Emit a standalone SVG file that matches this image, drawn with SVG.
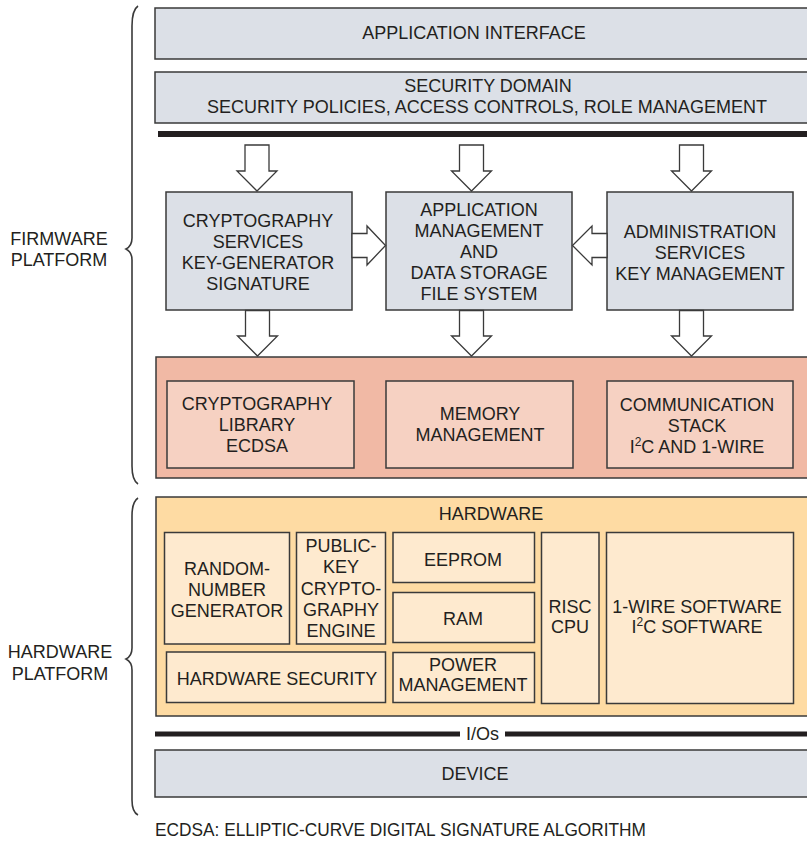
<svg xmlns="http://www.w3.org/2000/svg" width="807" height="841" viewBox="0 0 807 841">
<style>
text{font-family:"Liberation Sans",Arial,sans-serif;font-size:18px;fill:#231f20;text-anchor:middle}
.l{text-anchor:start}
.g{fill:#dce0e7;stroke:#3a3a3a;stroke-width:1.5}
.so{fill:#f1b9a5;stroke:#3a3a3a;stroke-width:1.5}
.si{fill:#f6d1c2;stroke:#3a3a3a;stroke-width:1.5}
.ho{fill:#fedba3;stroke:#3a3a3a;stroke-width:1.5}
.hi{fill:#feeacf;stroke:#3a3a3a;stroke-width:1.5}
.ar{fill:#fff;stroke:#3a3a3a;stroke-width:1.3;stroke-linejoin:miter}
.br{fill:none;stroke:#3a3a3a;stroke-width:1.6}
.bar{fill:#231f20}
.sup{font-size:12px}
</style>
<rect width="807" height="841" fill="#fff"/>
<g id="braces">
<path class="br" d="M138,6 Q132,10 132,26 L132,238 Q132,246 126,249 Q132,252 132,260 L132,466 Q132,480 138,484"/>
<path class="br" d="M138,498 Q132,502 132,516 L132,648 Q132,656 126,659 Q132,662 132,670 L132,800 Q132,812 138,815"/>
<text x="59" y="244.5">FIRMWARE</text>
<text x="59" y="266">PLATFORM</text>
<text x="60" y="657.5">HARDWARE</text>
<text x="60" y="679.5">PLATFORM</text>
</g>
<g id="app-interface">
<rect class="g" x="155" y="8" width="656" height="51"/>
<text x="474" y="39">APPLICATION INTERFACE</text>
</g>
<g id="security-domain">
<rect class="g" x="155" y="72" width="656" height="51"/>
<text x="488" y="92">SECURITY DOMAIN</text>
<text x="487" y="113">SECURITY POLICIES, ACCESS CONTROLS, ROLE MANAGEMENT</text>
</g>
<rect class="bar" x="158" y="131" width="649" height="6"/>
<g id="crypto-services">
<rect class="g" x="166" y="192" width="186" height="118"/>
<text x="258" y="227">CRYPTOGRAPHY</text>
<text x="258" y="248">SERVICES</text>
<text x="258" y="269">KEY-GENERATOR</text>
<text x="258" y="290">SIGNATURE</text>
</g>
<g id="app-management">
<rect class="g" x="386" y="192" width="186" height="118"/>
<text x="479" y="216">APPLICATION</text>
<text x="479" y="237">MANAGEMENT</text>
<text x="479" y="258">AND</text>
<text x="479" y="279">DATA STORAGE</text>
<text x="479" y="300">FILE SYSTEM</text>
</g>
<g id="admin-services">
<rect class="g" x="607" y="192" width="186" height="118"/>
<text x="700" y="237.5">ADMINISTRATION</text>
<text x="700" y="258.5">SERVICES</text>
<text x="700" y="279.5">KEY MANAGEMENT</text>
</g>
<g id="libraries">
<rect class="so" x="156" y="357" width="655" height="121"/>
</g>
<g id="crypto-library">
<rect class="si" x="167" y="381" width="187" height="87"/>
<text x="257" y="409.5">CRYPTOGRAPHY</text>
<text x="257" y="430.5">LIBRARY</text>
<text x="257" y="452">ECDSA</text>
</g>
<g id="memory-management">
<rect class="si" x="386" y="381" width="187" height="87"/>
<text x="480" y="420">MEMORY</text>
<text x="480" y="441">MANAGEMENT</text>
</g>
<g id="communication-stack">
<rect class="si" x="607" y="381" width="186" height="87"/>
<text x="697" y="410.5">COMMUNICATION</text>
<text x="697" y="431.5">STACK</text>
<text x="697" y="453">I<tspan class="sup" dy="-7">2</tspan><tspan dy="7">C AND 1-WIRE</tspan></text>
</g>
<g id="hardware">
<rect class="ho" x="156" y="497" width="655" height="219"/>
<text x="491" y="520">HARDWARE</text>
</g>
<g id="rng">
<rect class="hi" x="164.5" y="532.5" width="125" height="111.5"/>
<text x="227" y="575">RANDOM-</text>
<text x="227" y="596">NUMBER</text>
<text x="227" y="617">GENERATOR</text>
</g>
<g id="pk-engine">
<rect class="hi" x="296.5" y="532.5" width="89" height="111.5"/>
<text x="341" y="551.5">PUBLIC-</text>
<text x="341" y="573">KEY</text>
<text x="341" y="594.5">CRYPTO-</text>
<text x="341" y="616">GRAPHY</text>
<text x="341" y="637">ENGINE</text>
</g>
<g id="hw-security">
<rect class="hi" x="166.5" y="652" width="219" height="50.5"/>
<text x="277" y="685">HARDWARE SECURITY</text>
</g>
<g id="eeprom">
<rect class="hi" x="393" y="532.5" width="141.5" height="50"/>
<text x="463" y="565.5">EEPROM</text>
</g>
<g id="ram">
<rect class="hi" x="393" y="592.5" width="141.5" height="50"/>
<text x="463" y="625">RAM</text>
</g>
<g id="power-management">
<rect class="hi" x="393" y="652.5" width="141.5" height="50"/>
<text x="463" y="670.5">POWER</text>
<text x="463" y="691">MANAGEMENT</text>
</g>
<g id="risc-cpu">
<rect class="hi" x="541.5" y="532.5" width="57.5" height="171"/>
<text x="570" y="612.5">RISC</text>
<text x="570" y="633">CPU</text>
</g>
<g id="sw">
<rect class="hi" x="606.5" y="532.5" width="187" height="171"/>
<text x="697" y="612.5">1-WIRE SOFTWARE</text>
<text x="697" y="633">I<tspan class="sup" dy="-7">2</tspan><tspan dy="7">C SOFTWARE</tspan></text>
</g>
<g id="ios">
<rect class="bar" x="155" y="731.5" width="305" height="5"/>
<rect class="bar" x="505" y="731.5" width="302" height="5"/>
<text x="482.5" y="740">I/Os</text>
</g>
<g id="device">
<rect class="g" x="155" y="750" width="656" height="47"/>
<text x="475" y="779.5">DEVICE</text>
</g>
<g id="connectors">
<polygon class="ar" points="245,145 269,145 269,171 277,171 257,191 237,171 245,171"/>
<polygon class="ar" points="459.5,145 483.5,145 483.5,171 491.5,171 471.5,191 451.5,171 459.5,171"/>
<polygon class="ar" points="679.5,145 703.5,145 703.5,171 711.5,171 691.5,191 671.5,171 679.5,171"/>
<polygon class="ar" points="352,233.5 367,233.5 367,226 385.5,245.5 367,265 367,257.5 352,257.5"/>
<polygon class="ar" points="607,233.5 592,233.5 592,226 572.5,245.5 592,265 592,257.5 607,257.5"/>
<polygon class="ar" points="245.5,310.5 269.5,310.5 269.5,336 277.5,336 257.5,356 237.5,336 245.5,336"/>
<polygon class="ar" points="459.5,310.5 483.5,310.5 483.5,336 491.5,336 471.5,356 451.5,336 459.5,336"/>
<polygon class="ar" points="679.5,310.5 703.5,310.5 703.5,336 711.5,336 691.5,356 671.5,336 679.5,336"/>
</g>
<text class="l" x="155" y="836" textLength="491" lengthAdjust="spacingAndGlyphs">ECDSA: ELLIPTIC-CURVE DIGITAL SIGNATURE ALGORITHM</text>
</svg>
